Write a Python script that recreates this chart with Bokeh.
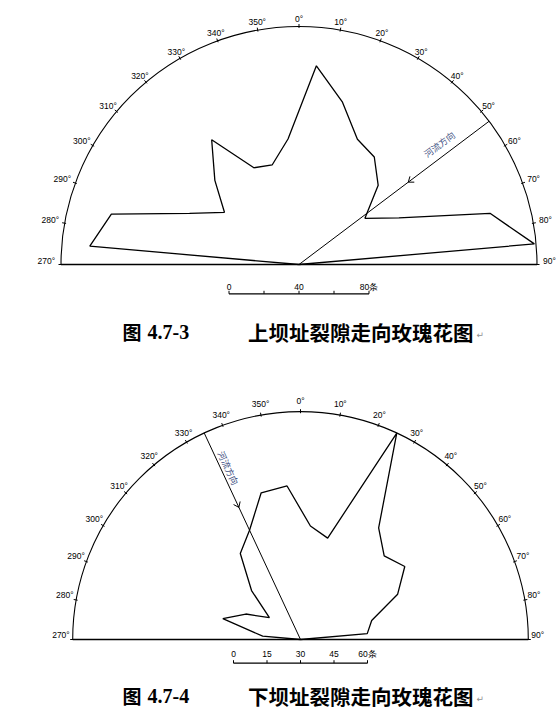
import numpy as np
from bokeh.plotting import figure
from bokeh.layouts import column
from bokeh.models import Range1d
from bokeh.core.properties import value
from bokeh.embed import file_html
from bokeh.resources import INLINE

# ---------------- data ----------------
bin_centres = [275, 285, 295, 305, 315, 325, 335, 345, 355,
               5, 15, 25, 35, 45, 55, 65, 75, 85]          # strike, degrees
upper_counts = [120, 111, 69, 52, 68, 87, 61, 59, 72,
                114, 96, 79, 75, 64, 46, 63, 113, 135]      # 上坝址 (条)
lower_counts = [17, 36, 27, 17, 31, 47, 54, 68, 69,
                51, 47, 102, 61, 53, 57, 48, 33, 30]        # 下坝址 (条)
upper_max = 136
lower_max = 102
dial_angles = [270, 280, 290, 300, 310, 320, 330, 340, 350,
               0, 10, 20, 30, 40, 50, 60, 70, 80, 90]
dial_labels = ["270°", "280°", "290°", "300°", "310°", "320°", "330°", "340°", "350°",
               "0°", "10°", "20°", "30°", "40°", "50°", "60°", "70°", "80°", "90°"]
upper_bar_ticks = [0, 20, 40, 60, 80]
upper_bar_labels = ["0", "", "40", "", "80条"]
lower_bar_ticks = [0, 15, 30, 45, 60]
lower_bar_labels = ["0", "15", "30", "45", "60条"]
upper_river_azimuth = 53
lower_river_azimuth = 335
river_label = "河流方向"
upper_fig_no = "4.7-3"
lower_fig_no = "4.7-4"
upper_title = "上坝址裂隙走向玫瑰花图"
lower_title = "下坝址裂隙走向玫瑰花图"

W = 557


def panel(counts, rmax, s, cx, cy, H, bar_ticks, bar_labels, river_az, arrow_frac,
          txt_along, txt_perp, lab_y, bar_y, fig_no, title, cap_y, up0, up1, side_pad):
    px = 1.0 / s
    p = figure(width=W, height=H,
               x_range=Range1d(-cx * px, (W - cx) * px),
               y_range=Range1d(-(H - cy) * px, cy * px),
               output_backend="svg", toolbar_location=None,
               x_axis_location=None, y_axis_location=None,
               min_border=0, outline_line_color=None,
               background_fill_color="white", border_fill_color="white")
    p.grid.visible = False

    # dial
    p.arc(x=0, y=0, radius=rmax, start_angle=0, end_angle=np.pi,
          line_color="black", line_width=1.1)
    p.line([-rmax, rmax], [0, 0], line_color="black", line_width=1.3)
    th = np.radians(dial_angles)
    r0 = rmax - 1.5 * px
    r1 = rmax + 2.5 * px
    p.segment(x0=r0 * np.sin(th), y0=r0 * np.cos(th), x1=r1 * np.sin(th), y1=r1 * np.cos(th),
              line_color="black", line_width=1)
    lx, ly = [], []
    for a, lab in zip(dial_angles, dial_labels):
        t = np.radians(a)
        hw = (4.7 * (len(lab) - 1) + 3.4) / 2
        dx = (hw + side_pad) * np.sin(t) * abs(np.sin(t))
        up = up0 + up1 * np.cos(t) ** 2
        lx.append(rmax * np.sin(t) + dx * px)
        ly.append(rmax * np.cos(t) + up * px)
    p.text(x=lx, y=ly, text=dial_labels, text_font=value("Liberation Sans"),
           text_font_size="8.5px", text_align="center", text_baseline="middle",
           text_color="black")

    # rose polygon
    tb = np.radians(bin_centres)
    c = np.asarray(counts, dtype=float)
    xs = np.concatenate([[0.0], c * np.sin(tb), [0.0]])
    ys = np.concatenate([[0.0], c * np.cos(tb), [0.0]])
    p.line(xs, ys, line_color="black", line_width=1.3)

    # river direction arrow
    ta = np.radians(river_az)
    u = np.array([np.sin(ta), np.cos(ta)])
    p.line([0, rmax * u[0]], [0, rmax * u[1]], line_color="black", line_width=1)
    tip = arrow_frac * rmax * u
    L = 6 * px
    bx0, by0, bx1, by1 = [], [], [], []
    for sgn in (1, -1):
        al = np.radians(37) * sgn
        b = np.array([u[0] * np.cos(al) - u[1] * np.sin(al),
                      u[0] * np.sin(al) + u[1] * np.cos(al)])
        bx0.append(tip[0]); by0.append(tip[1])
        bx1.append(tip[0] + L * b[0]); by1.append(tip[1] + L * b[1])
    p.segment(x0=bx0, y0=by0, x1=bx1, y1=by1, line_color="black", line_width=1)
    n = np.array([np.cos(ta), -np.sin(ta)])
    pos = txt_along * rmax * u + txt_perp * px * n
    ang = 90 - river_az
    ang = (ang + 180) % 360 - 180
    if ang > 90:
        ang -= 180
    elif ang < -90:
        ang += 180
    p.text(x=[pos[0]], y=[pos[1]], text=[river_label], angle=np.radians(ang),
           text_font=value("Noto Sans CJK SC"), text_font_size="9px",
           text_align="center", text_baseline="middle", text_color="#3f5283")

    # scale bar
    half = (bar_ticks[-1] - bar_ticks[0]) / 2
    tx = [t - bar_ticks[0] - half for t in bar_ticks]
    yb = -bar_y * px
    k = len(tx)
    p.line([tx[0], tx[-1]], [yb, yb], line_color="black", line_width=1.2)
    p.segment(x0=tx, y0=[yb] * k, x1=tx, y1=[yb + 3 * px] * k, line_color="black", line_width=1)
    p.text(x=tx, y=[-lab_y * px] * k, text=bar_labels, text_font=value("Liberation Sans"),
           text_font_size="8.5px", text_align="center", text_baseline="middle",
           text_color="black")

    # caption
    cyd = -cap_y * px
    p.text(x=[(131.5 - cx) * px], y=[cyd], text=["图"], text_font=value("Noto Sans CJK SC"),
           text_font_style="bold", text_font_size="19px", text_align="center",
           text_baseline="middle", text_color="black")
    p.text(x=[(147 - cx) * px], y=[cyd], text=[fig_no], text_font=value("Liberation Serif"),
           text_font_style="bold", text_font_size="20px", text_align="left",
           text_baseline="middle", text_color="black")
    p.text(x=[(247.5 - cx) * px], y=[cyd], text=[title], text_font=value("Noto Sans CJK SC"),
           text_font_style="bold", text_font_size="20.5px", text_align="left",
           text_baseline="middle", text_color="black")
    p.text(x=[(476 - cx) * px], y=[cyd - 3 * px], text=["↵"], text_font=value("DejaVu Sans"),
           text_font_size="9px", text_align="left", text_baseline="middle",
           text_color="#909090")
    return p


p1 = panel(upper_counts, upper_max, 1.75, 298.5, 264, 370, upper_bar_ticks, upper_bar_labels,
           upper_river_azimuth, 0.575, 0.775, -11.3, 22, 29.3, upper_fig_no, upper_title, 67,
           3.5, 4.5, 6)
p2 = panel(lower_counts, lower_max, 134 / 60, 300, 269, 341, lower_bar_ticks, lower_bar_labels,
           lower_river_azimuth, 0.64, 0.816, 6.8, 14, 23.7, lower_fig_no, lower_title, 56,
           5, 6, 3)

layout = column(p1, p2, spacing=0)
open("out.html", "w").write(file_html(layout, INLINE))
